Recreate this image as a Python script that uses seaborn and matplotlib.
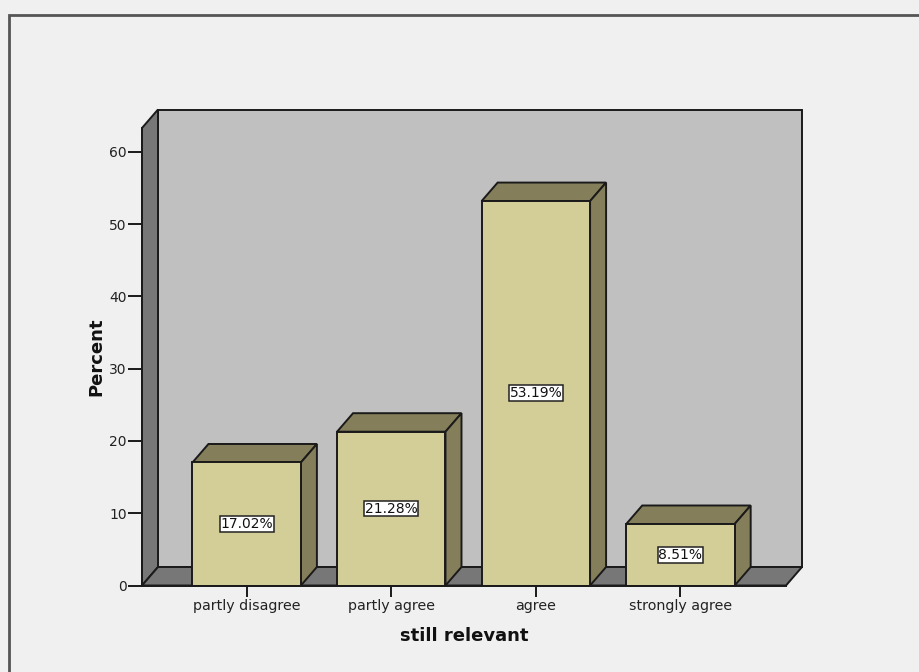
import matplotlib
matplotlib.use("Agg")
import matplotlib.pyplot as plt
from matplotlib.patches import Polygon, Rectangle
import seaborn as sns
import pandas as pd

# Data
categories = ["partly disagree", "partly agree", "agree", "strongly agree"]
percents = [17.02, 21.28, 53.19, 8.51]
y_ticks = [0, 10, 20, 30, 40, 50, 60]

df = pd.DataFrame({"still relevant": categories, "Percent": percents})

sns.set_theme(style="white")
plt.rcParams["font.family"] = ["DejaVu Sans"]

W, H = 920, 672
fig = plt.figure(figsize=(W / 100, H / 100), dpi=100, facecolor="#f0f0f0")

# axes rectangle in pixels (front plane)
ax_l, ax_r, ax_b, ax_t = 142, 786, 585.5, 128
ax = fig.add_axes([ax_l / W, (H - ax_b) / H, (ax_r - ax_l) / W, (ax_b - ax_t) / H])
ax.set_facecolor("none")

xmin, xmax = -0.724, 3.73
ymin, ymax = 0, 63.3

# depth of the 3D effect, pixels -> data units
px_x = (ax_r - ax_l) / (xmax - xmin)
px_y = (ax_b - ax_t) / (ymax - ymin)
dx = 16 / px_x
dy = 18.5 / px_y

front = "#d3ce97"
shade = "#847f5a"
wall = "#c0c0c0"
side = "#777777"
edge = "#1a1a1a"

sns.barplot(data=df, x="still relevant", y="Percent", order=categories,
            color=front, saturation=1, width=0.75, edgecolor=edge, linewidth=1.4,
            ax=ax, zorder=3)
ax.set_xlim(xmin, xmax)
ax.set_ylim(ymin, ymax)

# back wall
ax.add_patch(Rectangle((xmin + dx, ymin + dy), xmax - xmin, ymax - ymin,
                       facecolor=wall, edgecolor=edge, lw=1.4, clip_on=False, zorder=0.5))
# left side wall
ax.add_patch(Polygon([(xmin, ymin), (xmin, ymax), (xmin + dx, ymax + dy), (xmin + dx, ymin + dy)],
                     closed=True, facecolor=side, edgecolor=edge, lw=1.4, clip_on=False, zorder=0.6))
# floor
ax.add_patch(Polygon([(xmin, ymin), (xmax, ymin), (xmax + dx, ymin + dy), (xmin + dx, ymin + dy)],
                     closed=True, facecolor=side, edgecolor=edge, lw=1.4, clip_on=False, zorder=0.7))

for bar, val in zip(ax.containers[0], percents):
    x0 = bar.get_x()
    w = bar.get_width()
    h = bar.get_height()
    x1 = x0 + w
    top = [(x0, h), (x1, h), (x1 + dx, h + dy), (x0 + dx, h + dy)]
    rside = [(x1, 0), (x1, h), (x1 + dx, h + dy), (x1 + dx, dy)]
    ax.add_patch(Polygon(top, closed=True, facecolor=shade, edgecolor=edge,
                         lw=1.4, clip_on=False, zorder=2))
    ax.add_patch(Polygon(rside, closed=True, facecolor=shade, edgecolor=edge,
                         lw=1.4, clip_on=False, zorder=2))
    ax.text(x0 + w / 2, h / 2, f"{val:.2f}%", ha="center", va="center",
            fontsize=10, color="#111111", zorder=5,
            bbox=dict(boxstyle="square,pad=0.06", facecolor="white",
                      edgecolor="#222222", lw=1.1))

for s in ["top", "right"]:
    ax.spines[s].set_visible(False)
for s in ["left", "bottom"]:
    ax.spines[s].set_color(edge)
    ax.spines[s].set_linewidth(1.4)
    ax.spines[s].set_zorder(4)

ax.set_yticks(y_ticks)
ax.tick_params(axis="y", left=True, length=10, width=1.4, color=edge, pad=1,
               labelsize=10, labelcolor="#222222")
ax.tick_params(axis="x", bottom=True, length=8, width=1.4, color=edge, pad=2,
               labelsize=10.3, labelcolor="#222222")

ax.set_xlabel("still relevant", fontsize=13, fontweight="bold", labelpad=10, color="#111111")
ax.set_ylabel("Percent", fontsize=13, fontweight="bold", labelpad=3, color="#111111")

# outer frame
fig.patches.append(Rectangle((8.5 / W, -0.1), 1.2, (H - 15) / H + 0.1,
                             transform=fig.transFigure, facecolor="none",
                             edgecolor="#555555", lw=2, zorder=0))

fig.savefig("out.png", dpi=100, facecolor=fig.get_facecolor())
